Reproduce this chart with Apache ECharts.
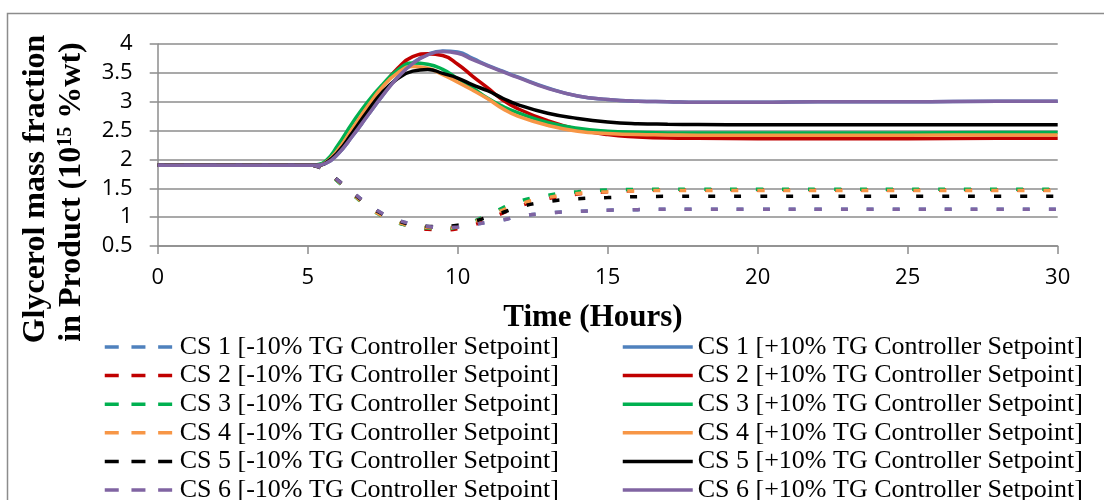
<!DOCTYPE html>
<html>
<head>
<meta charset="utf-8">
<script src="https://cdn.jsdelivr.net/npm/echarts@6/dist/echarts.min.js"></script>
<style>
  html, body { margin: 0; padding: 0; background: #fff; }
  #chart { width: 1104px; height: 500px; }
</style>
</head>
<body>
<div id="chart"></div>
<script>
// ---- data ----
const times = [0, 5, 5.3, 5.6, 6, 6.5, 7, 7.5, 8, 8.5, 9, 9.5, 10, 10.5, 11, 11.5, 12, 13, 14, 15, 16, 17, 18, 20, 22, 25, 28, 30];

// -10% TG controller setpoint (dashed)
const cs1Minus = [1.9, 1.9, 1.88, 1.80, 1.64, 1.43, 1.23, 1.06, 0.95, 0.88, 0.84, 0.82, 0.83, 0.87, 0.91, 0.95, 1.01, 1.07, 1.10, 1.12, 1.13, 1.135, 1.135, 1.135, 1.135, 1.135, 1.135, 1.135];
const cs2Minus = [1.9, 1.9, 1.88, 1.80, 1.63, 1.41, 1.20, 1.03, 0.91, 0.84, 0.79, 0.78, 0.80, 0.86, 0.96, 1.07, 1.18, 1.32, 1.40, 1.44, 1.46, 1.47, 1.47, 1.47, 1.47, 1.47, 1.47, 1.47];
const cs3Minus = [1.9, 1.9, 1.88, 1.79, 1.62, 1.39, 1.18, 1.01, 0.90, 0.84, 0.81, 0.80, 0.83, 0.92, 1.04, 1.16, 1.27, 1.38, 1.44, 1.47, 1.48, 1.485, 1.485, 1.485, 1.485, 1.485, 1.485, 1.485];
const cs4Minus = [1.9, 1.9, 1.88, 1.80, 1.63, 1.40, 1.19, 1.02, 0.91, 0.85, 0.82, 0.81, 0.84, 0.91, 1.01, 1.12, 1.22, 1.34, 1.41, 1.44, 1.455, 1.46, 1.46, 1.46, 1.46, 1.46, 1.46, 1.46];
const cs5Minus = [1.9, 1.9, 1.88, 1.80, 1.64, 1.42, 1.22, 1.05, 0.94, 0.87, 0.84, 0.84, 0.86, 0.92, 1.00, 1.08, 1.17, 1.27, 1.32, 1.34, 1.355, 1.36, 1.36, 1.36, 1.36, 1.36, 1.36, 1.36];
const cs6Minus = [1.9, 1.9, 1.88, 1.80, 1.64, 1.43, 1.23, 1.06, 0.95, 0.88, 0.84, 0.82, 0.83, 0.87, 0.91, 0.95, 1.01, 1.07, 1.10, 1.12, 1.13, 1.135, 1.135, 1.135, 1.135, 1.135, 1.135, 1.135];

// +10% TG controller setpoint (solid)
const cs1Plus = [1.9, 1.9, 1.90, 1.93, 2.09, 2.41, 2.76, 3.11, 3.43, 3.67, 3.82, 3.88, 3.86, 3.75, 3.63, 3.53, 3.43, 3.24, 3.10, 3.04, 3.01, 3.00, 2.99, 2.99, 3.00, 3.00, 3.01, 3.01];
const cs2Plus = [1.9, 1.9, 1.90, 1.95, 2.14, 2.50, 2.90, 3.27, 3.58, 3.78, 3.83, 3.80, 3.65, 3.44, 3.24, 3.03, 2.88, 2.67, 2.52, 2.43, 2.39, 2.37, 2.365, 2.36, 2.36, 2.36, 2.365, 2.365];
const cs3Plus = [1.9, 1.9, 1.91, 1.97, 2.24, 2.64, 3.00, 3.30, 3.55, 3.67, 3.65, 3.56, 3.40, 3.24, 3.06, 2.92, 2.81, 2.64, 2.54, 2.49, 2.47, 2.46, 2.46, 2.46, 2.46, 2.46, 2.465, 2.465];
const cs4Plus = [1.9, 1.9, 1.90, 1.95, 2.16, 2.54, 2.92, 3.26, 3.50, 3.61, 3.58, 3.47, 3.34, 3.20, 3.05, 2.88, 2.75, 2.59, 2.49, 2.45, 2.43, 2.425, 2.42, 2.42, 2.42, 2.42, 2.425, 2.425];
const cs5Plus = [1.9, 1.9, 1.90, 1.94, 2.12, 2.47, 2.84, 3.17, 3.40, 3.53, 3.56, 3.49, 3.41, 3.29, 3.19, 3.06, 2.95, 2.80, 2.71, 2.65, 2.62, 2.61, 2.605, 2.60, 2.60, 2.60, 2.60, 2.60];
const cs6Plus = [1.9, 1.9, 1.90, 1.93, 2.09, 2.41, 2.76, 3.11, 3.42, 3.66, 3.81, 3.87, 3.84, 3.73, 3.62, 3.52, 3.42, 3.23, 3.10, 3.04, 3.01, 3.00, 2.99, 2.99, 3.00, 3.00, 3.01, 3.01];

const xTicks = [0, 5, 10, 15, 20, 25, 30];
const yTicks = [0.5, 1, 1.5, 2, 2.5, 3, 3.5, 4];

const caseNames = ['CS 1', 'CS 2', 'CS 3', 'CS 4', 'CS 5', 'CS 6'];
const caseColors = ['#4F81BD', '#C00000', '#00B050', '#F79646', '#000000', '#8064A2'];
const minusSets = [cs1Minus, cs2Minus, cs3Minus, cs4Minus, cs5Minus, cs6Minus];
const plusSets = [cs1Plus, cs2Plus, cs3Plus, cs4Plus, cs5Plus, cs6Plus];
const minusLabel = ' [-10% TG Controller Setpoint]';
const plusLabel = ' [+10% TG Controller Setpoint]';

// ---- build ----
function zip(vals) { return times.map((t, i) => [t, vals[i]]); }

const series = [];
const minusNames = [], plusNames = [];
caseNames.forEach((cs, i) => {
  const mName = cs + minusLabel, pName = cs + plusLabel;
  minusNames.push(mName); plusNames.push(pName);
  series.push({
    name: mName, type: 'line', data: zip(minusSets[i]), symbol: 'circle', showSymbol: false,
    smooth: 0.5,
    lineStyle: { color: caseColors[i], width: 3.5, type: [7, 19], cap: 'butt' },
    itemStyle: { color: caseColors[i] }
  });
  series.push({
    name: pName, type: 'line', data: zip(plusSets[i]), symbol: 'circle', showSymbol: false,
    smooth: 0.5,
    lineStyle: { color: caseColors[i], width: 3.5, type: 'solid' },
    itemStyle: { color: caseColors[i] }
  });
});

const gridLeft = 157.7, gridTop = 44, gridRight = 1104 - 1057.7, gridBottom = 500 - 246;
const gray = '#8c8c8c';
const legendText = { fontFamily: '"Liberation Serif", "Times New Roman", serif', fontSize: 26, color: '#000', lineHeight: 28.6 };

const chart = echarts.init(document.getElementById('chart'), null, { renderer: 'canvas' });
chart.setOption({
  animation: false,
  backgroundColor: '#fff',
  grid: { left: gridLeft, top: gridTop, right: gridRight, bottom: gridBottom, containLabel: false },
  xAxis: {
    type: 'value', min: xTicks[0], max: xTicks[xTicks.length - 1], interval: 5,
    axisLine: { show: true, lineStyle: { color: gray, width: 1.5 } },
    axisTick: { show: true, inside: false, length: 8, lineStyle: { color: gray, width: 1.5 } },
    splitLine: { show: false },
    axisLabel: { margin: 21, fontFamily: '"Open Sans", sans-serif', fontSize: 22, color: '#000' }
  },
  yAxis: {
    type: 'value', min: yTicks[0], max: yTicks[yTicks.length - 1], interval: 0.5,
    axisLine: { show: true, lineStyle: { color: gray, width: 1.5 } },
    axisTick: { show: true, inside: false, length: 8, lineStyle: { color: gray, width: 1.5 } },
    splitLine: { show: true, lineStyle: { color: gray, width: 1.5 } },
    axisLabel: { margin: 25, fontFamily: '"Open Sans", sans-serif', fontSize: 22, color: '#000' }
  },
  legend: [
    {
      data: minusNames, orient: 'vertical', left: 103, top: 332.7, height: 250,
      itemWidth: 70, itemHeight: 14, itemGap: 0, selectedMode: false, padding: 0,
      textStyle: legendText,
      itemStyle: { opacity: 0 },
      lineStyle: { width: 3.5, type: [14, 12.7], cap: 'butt' }
    },
    {
      data: plusNames, orient: 'vertical', left: 621, top: 332.7, height: 250,
      itemWidth: 70, itemHeight: 14, itemGap: 0, selectedMode: false, padding: 0,
      textStyle: legendText,
      itemStyle: { opacity: 0 },
      lineStyle: { width: 3.5, type: 'solid' }
    }
  ],
  graphic: [
    {
      type: 'rect', silent: true, z: -10,
      shape: { x: 7.5, y: 13.5, width: 1400, height: 800 },
      style: { fill: 'none', stroke: gray, lineWidth: 1.5 }
    },
    {
      type: 'text', x: 36, y: 189, rotation: Math.PI / 2, silent: true,
      style: {
        text: 'Glycerol mass fraction', fill: '#000',
        fontFamily: '"Liberation Serif", "Times New Roman", serif', fontWeight: 'bold', fontSize: 32,
        align: 'center', verticalAlign: 'middle'
      }
    },
    {
      type: 'text', x: 72, y: 192, rotation: Math.PI / 2, silent: true,
      style: {
        text: 'in Product (10{sup|15} %wt)', fill: '#000',
        fontFamily: '"Liberation Serif", "Times New Roman", serif', fontWeight: 'bold', fontSize: 32,
        align: 'center', verticalAlign: 'middle',
        rich: {
          sup: {
            fontFamily: '"Liberation Serif", "Times New Roman", serif', fontWeight: 'bold', fontSize: 20,
            verticalAlign: 'top', fill: '#000'
          }
        }
      }
    },
    {
      type: 'text', x: 593, y: 318, silent: true,
      style: {
        text: 'Time (Hours)', fill: '#000',
        fontFamily: '"Liberation Serif", "Times New Roman", serif', fontWeight: 'bold', fontSize: 31,
        align: 'center', verticalAlign: 'middle'
      }
    }
  ],
  series: series
});
</script>
</body>
</html>
